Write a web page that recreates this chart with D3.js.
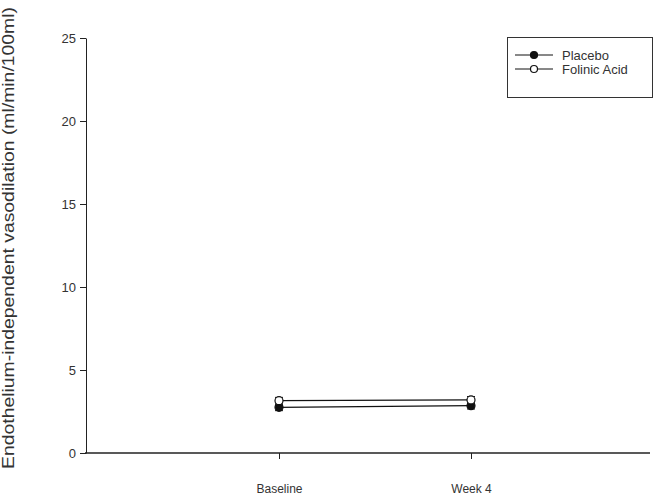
<!DOCTYPE html>
<html>
<head>
<meta charset="utf-8">
<script src="https://cdn.jsdelivr.net/npm/d3@7"></script>
<style>
  body { margin: 0; background: #fff; }
  text { font-family: "Liberation Sans", Arial, sans-serif; fill: #333; }
</style>
</head>
<body>
<div id="chart"></div>
<script>
// data
var timepoints = ["Baseline", "Week 4"];
var placeboMean = [2.75, 2.85];
var placeboErr = [0.2, 0.2];
var folinicMean = [3.15, 3.2];
var folinicErr = [0.2, 0.2];
var yTicks = [0, 5, 10, 15, 20, 25];

var width = 655, height = 503;
var x0 = 86, x1 = 650, yTop = 38, yBot = 453;

var svg = d3.select("#chart").append("svg")
  .attr("width", width).attr("height", height);

var y = d3.scaleLinear().domain([0, 25]).range([yBot, yTop]);
var x = d3.scalePoint().domain(timepoints).range([279, 471]);

// y axis
var yAxis = svg.append("g").attr("transform", "translate(" + x0 + ",0)")
  .call(d3.axisLeft(y).tickValues(yTicks).tickSize(6).tickSizeOuter(0).tickPadding(4));
yAxis.select(".domain").attr("stroke", "#222");
yAxis.selectAll(".tick line").attr("stroke", "#222");
yAxis.selectAll("text").style("font-size", "13px").attr("fill", "#333");

// x axis line + ticks
svg.append("line").attr("x1", x0 - 1).attr("x2", x1)
  .attr("y1", yBot).attr("y2", yBot).attr("stroke", "#222").attr("stroke-width", 1.5);
var xAxis = svg.append("g").attr("transform", "translate(0," + yBot + ")")
  .call(d3.axisBottom(x).tickSize(6).tickSizeOuter(0).tickPadding(25));
xAxis.select(".domain").remove();
xAxis.selectAll(".tick line").attr("stroke", "#222");
xAxis.selectAll("text").style("font-size", "12px").attr("fill", "#333");

// y title
svg.append("text")
  .attr("transform", "translate(14,238) rotate(-90)")
  .attr("text-anchor", "middle")
  .attr("textLength", 462)
  .attr("lengthAdjust", "spacingAndGlyphs")
  .style("font-size", "16px")
  .text("Endothelium-independent vasodilation (ml/min/100ml)");

var line = d3.line().x(function(d, i) { return x(timepoints[i]); }).y(function(d) { return y(d); });

function drawSeries(means, errs, fill)
  {
  var g = svg.append("g");
  g.append("path").datum(means).attr("d", line)
    .attr("fill", "none").attr("stroke", "#111").attr("stroke-width", 1.2);
  means.forEach(function(m, i)
    {
    var cx = x(timepoints[i]);
    g.append("line").attr("x1", cx).attr("x2", cx)
      .attr("y1", y(m - errs[i])).attr("y2", y(m + errs[i])).attr("stroke", "#111");
    [m - errs[i], m + errs[i]].forEach(function(v)
      {
      g.append("line").attr("x1", cx - 4).attr("x2", cx + 4)
        .attr("y1", y(v)).attr("y2", y(v)).attr("stroke", "#111");
      });
    g.append("circle").attr("cx", cx).attr("cy", y(m)).attr("r", 4)
      .attr("fill", fill).attr("stroke", "#111").attr("stroke-width", 1.2);
    });
  }

drawSeries(placeboMean, placeboErr, "#111");
drawSeries(folinicMean, folinicErr, "#fff");

// legend
var leg = svg.append("g");
leg.append("rect").attr("x", 507.5).attr("y", 37.5).attr("width", 145).attr("height", 60)
  .attr("fill", "#fff").attr("stroke", "#333");
var legItems = [["Placebo", "#111"], ["Folinic Acid", "#fff"]];
legItems.forEach(function(d, i)
  {
  var ly = 55 + i * 14;
  leg.append("line").attr("x1", 515).attr("x2", 553).attr("y1", ly).attr("y2", ly)
    .attr("stroke", "#111").attr("stroke-width", 1);
  leg.append("circle").attr("cx", 534).attr("cy", ly).attr("r", 3.5)
    .attr("fill", d[1]).attr("stroke", "#111").attr("stroke-width", 1.2);
  leg.append("text").attr("x", 562).attr("y", ly + 5)
    .style("font-size", "13px").text(d[0]);
  });
</script>
</body>
</html>
